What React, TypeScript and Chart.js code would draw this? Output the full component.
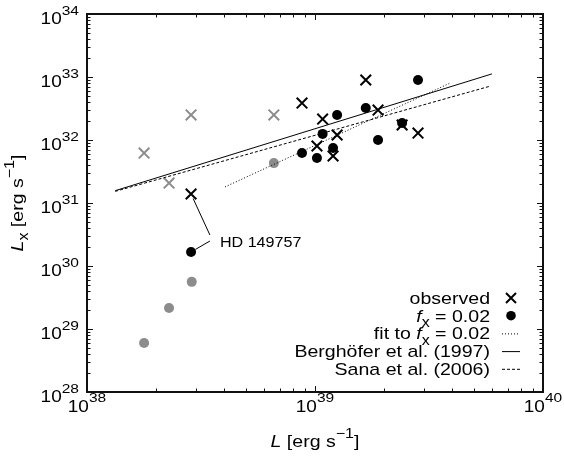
import React, { useEffect, useRef } from "react";
import { Chart, registerables } from "chart.js";
Chart.register(...registerables);

// ---- data ----
const obsL = [8.77e38, 1.08e39, 1.67e39, 1.89e39, 1.25e39, 1.02e39, 1.2e39, 2.41e39, 2.83e39, 2.86e38];
const obsLx = [3.86e32, 2.15e32, 8.96e32, 2.99e32, 1.2e32, 8.03e31, 5.57e31, 1.73e32, 1.29e32, 1.39e31];
const fxL = [2.83e39, 1.67e39, 1.25e39, 1.08e39, 1.2e39, 8.77e38, 1.02e39, 1.89e39, 2.41e39, 2.86e38];
const fxLx = [8.96e32, 3.22e32, 2.5e32, 1.25e32, 7.46e31, 6.22e31, 5.18e31, 1.0e32, 1.86e32, 1.67e30];
const grayObsL = [1.78e38, 2.29e38, 2.86e38, 6.6e38];
const grayObsLx = [6.2e31, 2.07e31, 2.5e32, 2.5e32];
const grayFxL = [1.78e38, 2.29e38, 2.88e38, 6.6e38];
const grayFxLx = [6.0e28, 2.15e29, 5.6e29, 4.3e31];
const fitL = [4.03e38, 3.94e39];
const fitLx = [1.8e31, 8.1e32];
const bergL = [1.33e38, 5.97e39];
const bergLx = [1.57e31, 1.12e33];
const sanaL = [1.33e38, 5.9e39];
const sanaLx = [1.53e31, 7.2e32];
const xDecades = [38, 39, 40];
const yDecades = [28, 29, 30, 31, 32, 33, 34];
const annoText = "HD 149757";
const annoL = 3.46e38;
const annoLx = 2.78e30;
const hdIndex = 9;

type Piece = { t: string; it?: boolean; sub?: boolean; sup?: boolean };
const legendLabels: Piece[][] = [
  [{ t: "observed" }],
  [{ t: "f", it: true }, { t: "x", sub: true }, { t: " = 0.02" }],
  [{ t: "fit to " }, { t: "f", it: true }, { t: "x", sub: true }, { t: " = 0.02" }],
  [{ t: "Berghöfer et al. (1997)" }],
  [{ t: "Sana et al. (2006)" }],
];
const legendKinds = ["cross", "dot", "dotted", "solid", "dashed"];

const GRAY = "#8c8c8c";
const BLACK = "#000000";
const FONT = '"Liberation Sans", Arial, Helvetica, sans-serif';
const HS = 1.15;

const pts = (xs: number[], ys: number[]) => xs.map((x, i) => ({ x, y: ys[i] }));

function pieceFont(p: Piece, size: number) {
  const s = p.sub || p.sup ? size * 0.82 : size;
  return `${p.it ? "italic " : ""}${s}px ${FONT}`;
}

function drawRich(ctx: CanvasRenderingContext2D, pieces: Piece[], x: number, y: number, size: number, align: string) {
  ctx.save();
  ctx.textBaseline = "alphabetic";
  ctx.textAlign = "left";
  ctx.fillStyle = "#000";
  let w = 0;
  const ws = pieces.map((p) => {
    ctx.font = pieceFont(p, size);
    const m = ctx.measureText(p.t).width;
    w += m;
    return m;
  });
  ctx.translate(x, y);
  ctx.scale(HS, 1);
  let cx = align === "left" ? 0 : align === "right" ? -w : -w / 2;
  pieces.forEach((p, i) => {
    ctx.font = pieceFont(p, size);
    const dy = p.sup ? -size * 0.55 : p.sub ? size * 0.3 : 0;
    ctx.fillText(p.t, cx, dy);
    cx += ws[i];
  });
  ctx.restore();
}

const overlay = {
  id: "overlay",
  afterDraw(chart: any) {
    const ctx: CanvasRenderingContext2D = chart.ctx;
    const { left, right, top, bottom } = chart.chartArea;
    const xs = chart.scales.x;
    const ys = chart.scales.y;
    ctx.save();
    // frame
    ctx.strokeStyle = "#111";
    ctx.lineWidth = 2;
    ctx.strokeRect(left, top, right - left, bottom - top);
    // ticks
    ctx.lineWidth = 1;
    ctx.beginPath();
    for (let d = xDecades[0]; d < xDecades[xDecades.length - 1] + 1; d++) {
      for (let m = 1; m <= 9; m++) {
        const v = m * Math.pow(10, d);
        if (v < xs.min * 0.999 || v > xs.max * 1.001) continue;
        const px = Math.round(xs.getPixelForValue(v)) + 0.5;
        const len = m === 1 ? 6 : 3.5;
        ctx.moveTo(px, bottom);
        ctx.lineTo(px, bottom - len);
        ctx.moveTo(px, top);
        ctx.lineTo(px, top + len);
      }
    }
    for (let d = yDecades[0]; d < yDecades[yDecades.length - 1] + 1; d++) {
      for (let m = 1; m <= 9; m++) {
        const v = m * Math.pow(10, d);
        if (v < ys.min * 0.999 || v > ys.max * 1.001) continue;
        const py = Math.round(ys.getPixelForValue(v)) + 0.5;
        const len = m === 1 ? 6 : 3.5;
        ctx.moveTo(left, py);
        ctx.lineTo(left + len, py);
        ctx.moveTo(right, py);
        ctx.lineTo(right - len, py);
      }
    }
    ctx.stroke();
    // tick labels
    const TS = 16.5;
    xDecades.forEach((d) => {
      const px = xs.getPixelForValue(Math.pow(10, d));
      drawRich(ctx, [{ t: "10" }, { t: String(d), sup: true }], px, bottom + 19.5, TS, "center");
    });
    yDecades.forEach((d) => {
      const py = ys.getPixelForValue(Math.pow(10, d));
      drawRich(ctx, [{ t: "10" }, { t: String(d), sup: true }], left - 8, py + 10, TS, "right");
    });
    // axis titles
    drawRich(ctx, [{ t: "L", it: true }, { t: " [erg s" }, { t: "−1", sup: true }, { t: "]" }], (left + right) / 2, 447, 17, "center");
    ctx.save();
    ctx.translate(23, (top + bottom) / 2);
    ctx.rotate(-Math.PI / 2);
    drawRich(ctx, [{ t: "L", it: true }, { t: "x", sub: true }, { t: " [erg s" }, { t: "−1", sup: true }, { t: "]" }], 0, 0, 17, "center");
    ctx.restore();
    // annotation
    const cxp = xs.getPixelForValue(obsL[hdIndex]);
    const cyp = ys.getPixelForValue(obsLx[hdIndex]);
    const dxp = xs.getPixelForValue(fxL[hdIndex]);
    const dyp = ys.getPixelForValue(fxLx[hdIndex]);
    const tx = xs.getPixelForValue(annoL);
    const ty = ys.getPixelForValue(annoLx);
    const seg = (x0: number, y0: number, x1: number, y1: number, s0: number, s1: number) => {
      const L = Math.hypot(x1 - x0, y1 - y0);
      const ux = (x1 - x0) / L, uy = (y1 - y0) / L;
      ctx.moveTo(x0 + ux * s0, y0 + uy * s0);
      ctx.lineTo(x1 - ux * s1, y1 - uy * s1);
    };
    ctx.strokeStyle = "#000";
    ctx.lineWidth = 1;
    ctx.beginPath();
    seg(cxp, cyp, tx, ty - 3, 5, 0);
    seg(tx, ty + 3, dxp, dyp, 0, 5);
    ctx.stroke();
    drawRich(ctx, [{ t: annoText }], tx + 10, ty + 9, 14, "left");
    // legend
    const LS = 17;
    const textRight = 490;
    const symX = 511;
    legendLabels.forEach((lab, i) => {
      const cy = 298 + i * 17.7;
      drawRich(ctx, lab, textRight, cy + 6, LS, "right");
      const k = legendKinds[i];
      ctx.save();
      ctx.strokeStyle = "#000";
      ctx.fillStyle = "#000";
      if (k === "cross") {
        ctx.lineWidth = 2;
        ctx.beginPath();
        ctx.moveTo(symX - 5, cy - 5);
        ctx.lineTo(symX + 5, cy + 5);
        ctx.moveTo(symX - 5, cy + 5);
        ctx.lineTo(symX + 5, cy - 5);
        ctx.stroke();
      } else if (k === "dot") {
        ctx.beginPath();
        ctx.arc(symX, cy, 4.8, 0, Math.PI * 2);
        ctx.fill();
      } else {
        ctx.lineWidth = 1;
        ctx.setLineDash(k === "dotted" ? [1, 2] : k === "dashed" ? [3, 2] : []);
        ctx.beginPath();
        ctx.moveTo(502, cy + 0.5);
        ctx.lineTo(520, cy + 0.5);
        ctx.stroke();
      }
      ctx.restore();
    });
    ctx.restore();
  },
};

export default function App() {
  const ref = useRef<HTMLCanvasElement>(null);
  useEffect(() => {
    if (!ref.current) return;
    const chart = new Chart(ref.current, {
      type: "scatter",
      data: {
        datasets: [
          {
            data: pts(obsL, obsLx),
            pointStyle: "crossRot",
            pointRadius: 7.5,
            pointBorderWidth: 2,
            pointBorderColor: BLACK,
            pointBackgroundColor: BLACK,
          } as any,
          {
            data: pts(fxL, fxLx),
            pointStyle: "circle",
            pointRadius: 5,
            pointBorderWidth: 0,
            pointBorderColor: BLACK,
            pointBackgroundColor: BLACK,
          },
          {
            data: pts(fitL, fitLx),
            showLine: true,
            pointRadius: 0,
            borderColor: BLACK,
            borderWidth: 1,
            borderDash: [1, 2],
          },
          {
            data: pts(bergL, bergLx),
            showLine: true,
            pointRadius: 0,
            borderColor: BLACK,
            borderWidth: 1,
          },
          {
            data: pts(sanaL, sanaLx),
            showLine: true,
            pointRadius: 0,
            borderColor: BLACK,
            borderWidth: 1,
            borderDash: [3, 2],
          },
          {
            data: pts(grayObsL, grayObsLx),
            pointStyle: "crossRot",
            pointRadius: 7.5,
            pointBorderWidth: 2,
            pointBorderColor: GRAY,
            pointBackgroundColor: GRAY,
          },
          {
            data: pts(grayFxL, grayFxLx),
            pointStyle: "circle",
            pointRadius: 5,
            pointBorderWidth: 0,
            pointBorderColor: GRAY,
            pointBackgroundColor: GRAY,
          },
        ],
      },
      options: {
        responsive: false,
        animation: false,
        devicePixelRatio: 1,
        layout: { padding: { left: 87, top: 14, right: 21, bottom: 67 }, autoPadding: false },
        plugins: { legend: { display: false }, tooltip: { enabled: false } },
        events: [],
        scales: {
          x: { type: "logarithmic", min: 1e38, max: 1e40, display: false },
          y: { type: "logarithmic", min: 1e28, max: 1e34, display: false },
        },
      } as any,
      plugins: [overlay],
    });
    return () => chart.destroy();
  }, []);
  return (
    <>
      <style>{`body{margin:0;background:#fff}`}</style>
      <canvas ref={ref} width={564} height={459} style={{ display: "block" }} />
    </>
  );
}
